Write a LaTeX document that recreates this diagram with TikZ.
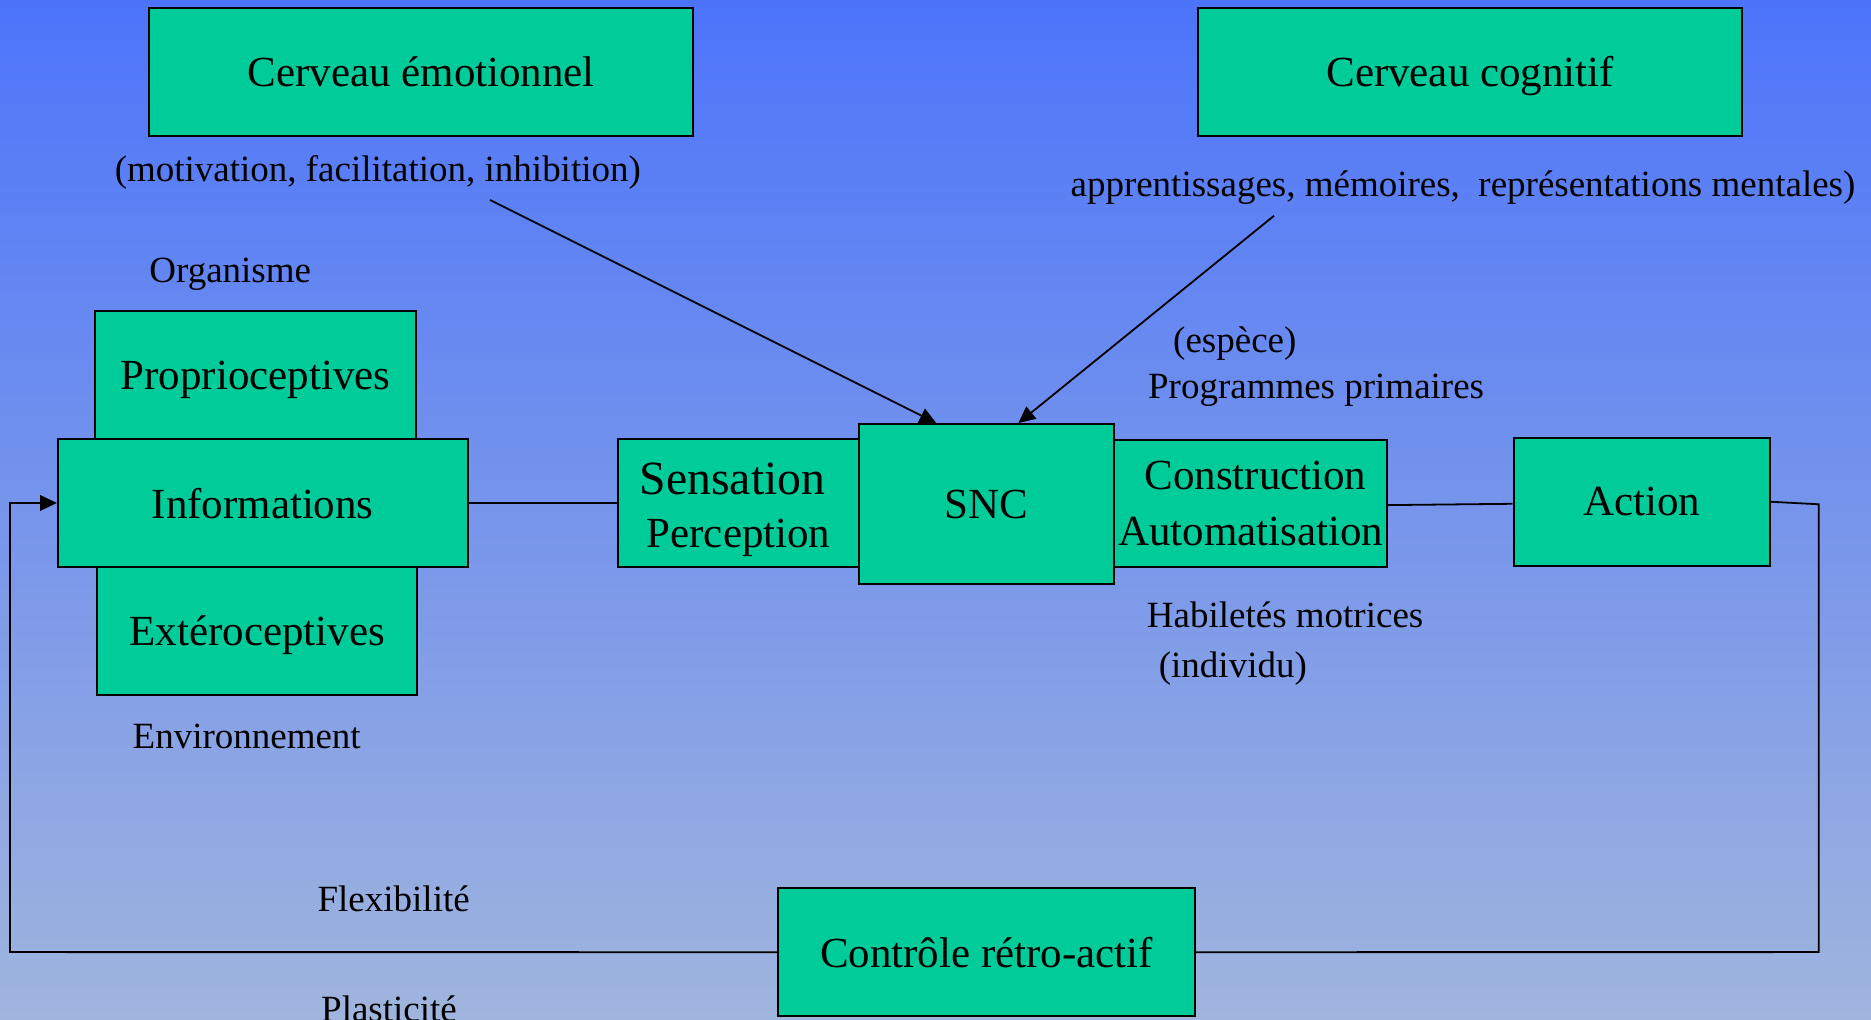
\documentclass[tikz,border=0pt]{standalone}
\usepackage{fontspec}
\setmainfont{Liberation Serif}
\usetikzlibrary{arrows.meta}
\definecolor{boxgreen}{RGB}{0,204,153}
\definecolor{bgtop}{RGB}{76,116,250}
\definecolor{bgbot}{RGB}{160,181,221}
\tikzset{
  box/.style={draw=black, fill=boxgreen, line width=1.7pt, inner sep=0pt, align=center,
    font=\fontsize{36}{47}\selectfont},
  onebox/.style={box, text depth=0pt},
  lab/.style={anchor=base west, inner sep=0pt, font=\fontsize{31}{36}\selectfont},
  conn/.style={draw=black, line width=1.5pt},
  tip/.style={-{Triangle[length=14pt,width=13pt]}}
}
\begin{document}
\begin{tikzpicture}[x=1pt,y=-1pt]
\useasboundingbox (0,0) rectangle (1568,854);
\clip (0,0) rectangle (1568,854);
\shade[top color=bgtop, bottom color=bgbot] (0,0) rectangle (1568,854);

% boxes
\node[onebox, minimum width=456pt, minimum height=107.6pt] (ce) at (353,60.2) {Cerveau émotionnel};
\node[onebox, minimum width=456pt, minimum height=107.6pt] (cc) at (1232,60.2) {Cerveau cognitif};
\node[onebox, minimum width=268.3pt, minimum height=107.3pt] (prop) at (214.15,314.35) {Proprioceptives};
\node[onebox, minimum width=268.3pt, minimum height=107.3pt] (exte) at (215.65,528.65) {Extéroceptives};
\node[onebox, minimum width=343.3pt, minimum height=107pt] (info) at (220.15,421.5) {Informations};
\node[box, minimum width=201.3pt, minimum height=107pt, font=\fontsize{36}{44}\selectfont] (sens) at (618.95,421.5)
  {\rule{0pt}{37.6pt}{\fontsize{40}{44}\selectfont Sensation}\kern10pt\\Perception};
\node[box, minimum width=228.6pt, minimum height=106.2pt] (cons) at (1048.1,421.9) {Construction\kern-8pt\\Automatisation};
\node[onebox, minimum width=214.2pt, minimum height=134.1pt] (snc) at (826.7,422.45) {SNC};
\node[onebox, minimum width=214.6pt, minimum height=107.4pt] (act) at (1375.8,420.5) {Action};
\node[onebox, minimum width=349.2pt, minimum height=106.9pt] (ctrl) at (826.7,797.95) {Contrôle rétro-actif};

% labels
\node[lab] (lmot) at (96,152) {(motivation, facilitation, inhibition)};
\node[lab] (lapp) at (897,165) {apprentissages, mémoires,\ \ représentations mentales)};
\node[lab] (lorg) at (125,237) {Organisme};
\node[lab] (lesp) at (983,295) {(espèce)};
\node[lab] (lprog) at (962,334) {Programmes primaires};
\node[lab] (lhab) at (961,526) {Habiletés motrices};
\node[lab] (lind) at (971,568) {(individu)};
\node[lab] (lenv) at (111,627) {Environnement};
\node[lab] (lflex) at (266,764) {Flexibilité};
\node[lab] (lplas) at (269,856) {Plasticité};

% connector anchors
\coordinate (a1) at (410.7,167.6);
\coordinate (a2) at (1067.7,180.8);
\coordinate (rc1) at (1524.2,422.6);
\coordinate (rc2) at (1524.2,797.9);
\coordinate (lc1) at (8.4,797.9);
\coordinate (lc2) at (8.4,421.5);

% connectors
\draw[conn, tip] (a1) -- ([xshift=65.9pt]snc.north west);
\draw[conn, tip] (a2) -- ([xshift=134.7pt]snc.north west);
\draw[conn] (info.east) -- (sens.west);
\draw[conn] ([yshift=-1.4pt]cons.east) -- ([yshift=-1.7pt]act.west);
\draw[conn] (act.east) -- (rc1) -- (rc2) -- (ctrl.east);
\draw[conn, tip] (ctrl.west) -- (lc1) -- (lc2) -- (info.west);
\end{tikzpicture}
\end{document}
